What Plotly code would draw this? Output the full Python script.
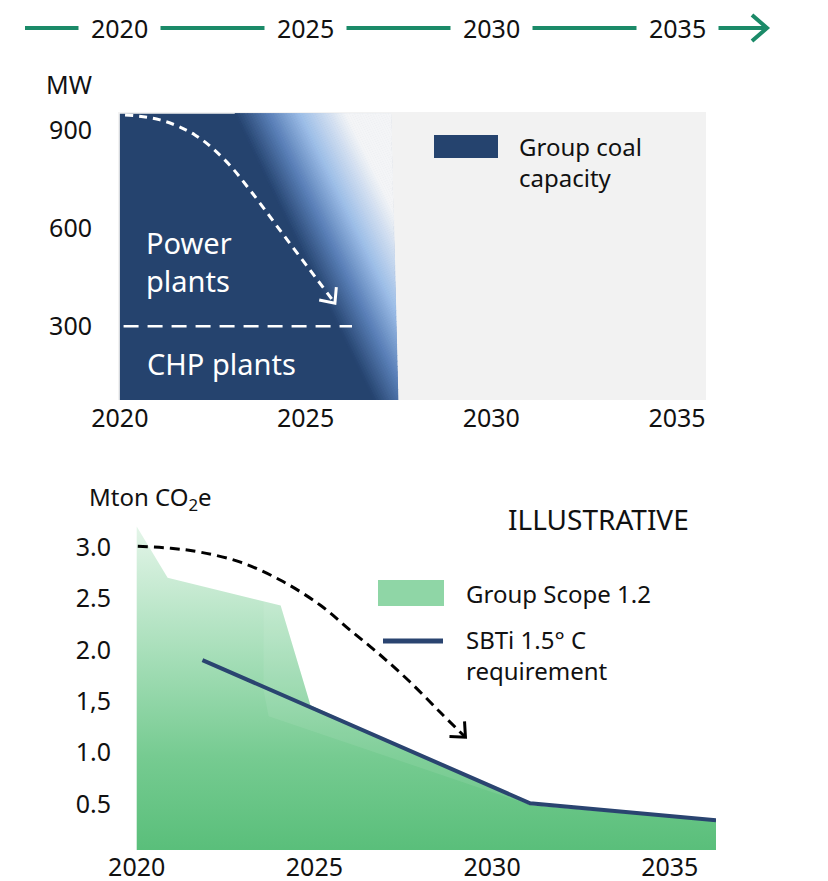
import math
import plotly.graph_objects as go

W, H = 828, 881

# ---------------- data ----------------
year_ticks = [2020, 2025, 2030, 2035]
year_labels = ["2020", "2025", "2030", "2035"]

mw_ticks = [300, 600, 900]
mw_labels = ["300", "600", "900"]

co2_ticks = [0.5, 1.0, 1.5, 2.0, 2.5, 3.0]
co2_labels = ["0.5", "1.0", "1,5", "2.0", "2.5", "3.0"]

# Group coal capacity (MW)
coal_years = [2020.0, 2020.0, 2027.3, 2027.5]
coal_mw = [0, 950, 950, 0]
chp_split_mw = 300
chp_split_years = [2020.1, 2026.25]

# illustrative phase-out arrow (top panel)
coal_arrow_years = [2020.14, 2021.08, 2022.02, 2022.83, 2023.50, 2024.31, 2025.12, 2025.79]
coal_arrow_mw = [946, 931, 885, 808, 717, 594, 472, 371]

# Group Scope 1.2 emissions (Mton CO2e)
scope_years = [2020.0, 2020.87, 2024.05, 2024.89, 2031.07, 2036.3]
scope_vals = [3.20, 2.70, 2.43, 1.46, 0.49, 0.335]
scope_strip_years = [2023.57, 2024.05, 2024.89, 2031.07, 2023.71, 2023.57]
scope_strip_vals = [2.47, 2.43, 1.46, 0.49, 1.354, 1.606]

# SBTi 1.5 C requirement
sbti_years = [2021.85, 2031.07, 2036.3]
sbti_vals = [1.90, 0.507, 0.342]

# illustrative reduction arrow (bottom panel)
co2_arrow_years = [2020.03, 2020.96, 2021.80, 2022.92, 2024.05, 2025.17, 2026.01, 2026.86, 2027.70, 2028.54, 2029.25]
co2_arrow_vals = [3.007, 2.988, 2.949, 2.852, 2.676, 2.433, 2.190, 1.947, 1.684, 1.392, 1.149]

# ---------------- styling ----------------
NAVY = "#25436e"
GREEN_LINE = "#1b8a68"
TXT = "#111111"
FONT = "Noto Sans"

TOP = dict(x0=118, x1=706, y0=112, y1=400, xr=[2019.95, 2035.78], yr=[75, 955])
BOT = dict(x0=136, x1=716, y0=500, y1=850, xr=[2019.98, 2036.3], yr=[0.0525, 3.457])


def to_px(p, x, y):
    X = p["x0"] + (x - p["xr"][0]) / (p["xr"][1] - p["xr"][0]) * (p["x1"] - p["x0"])
    Y = p["y1"] - (y - p["yr"][0]) / (p["yr"][1] - p["yr"][0]) * (p["y1"] - p["y0"])
    return X, Y


def from_px(p, X, Y):
    x = p["xr"][0] + (X - p["x0"]) / (p["x1"] - p["x0"]) * (p["xr"][1] - p["xr"][0])
    y = p["yr"][0] + (p["y1"] - Y) / (p["y1"] - p["y0"]) * (p["yr"][1] - p["yr"][0])
    return x, y


def chevron(p, xs, ys, length=16, half_angle=42):
    x1, y1 = to_px(p, xs[-2], ys[-2])
    x2, y2 = to_px(p, xs[-1], ys[-1])
    ang = math.atan2(y1 - y2, x1 - x2)
    pts = []
    for s in (1, -1):
        a = ang + s * math.radians(half_angle)
        pts.append(from_px(p, x2 + length * math.cos(a), y2 + length * math.sin(a)))
    return [pts[0][0], xs[-1], pts[1][0]], [pts[0][1], ys[-1], pts[1][1]]


def clip_poly(subject, clipper):
    area = 0
    for i in range(len(clipper)):
        a, b = clipper[i], clipper[(i + 1) % len(clipper)]
        area += a[0] * b[1] - b[0] * a[1]
    sgn = 1 if area > 0 else -1

    def inside(pt, a, b):
        return sgn * ((b[0] - a[0]) * (pt[1] - a[1]) - (b[1] - a[1]) * (pt[0] - a[0])) >= 0

    def inter(p1, p2, a, b):
        x1, y1 = p1; x2, y2 = p2; x3, y3 = a; x4, y4 = b
        den = (x1 - x2) * (y3 - y4) - (y1 - y2) * (x3 - x4)
        t = ((x1 - x3) * (y3 - y4) - (y1 - y3) * (x3 - x4)) / den
        return (x1 + t * (x2 - x1), y1 + t * (y2 - y1))

    out = subject
    for i in range(len(clipper)):
        a, b = clipper[i], clipper[(i + 1) % len(clipper)]
        inp, out = out, []
        if not inp:
            break
        s = inp[-1]
        for e in inp:
            if inside(e, a, b):
                if not inside(s, a, b):
                    out.append(inter(s, e, a, b))
                out.append(e)
            elif inside(s, a, b):
                out.append(inter(s, e, a, b))
            s = e
    return out


def hex2rgb(h):
    h = h.lstrip("#")
    return [int(h[i:i + 2], 16) for i in (0, 2, 4)]


grad_stops = [(0.0, "#25436e"), (0.9, "#5a80b8"), (1.75, "#9dbee8"), (3.0, "#f4f5f7"), (9.0, "#f4f5f7")]


def grad_color(d):
    for (d0, c0), (d1, c1) in zip(grad_stops[:-1], grad_stops[1:]):
        if d0 <= d <= d1:
            t = (d - d0) / (d1 - d0)
            a, b = hex2rgb(c0), hex2rgb(c1)
            return "rgb(%d,%d,%d)" % tuple(round(a[i] + t * (b[i] - a[i])) for i in range(3))
    return grad_stops[-1][1]


fig = go.Figure()

# ---- top panel: coal capacity ----
fig.add_trace(go.Scatter(x=coal_years, y=coal_mw, fill="toself", fillcolor=NAVY,
                         line=dict(width=0, color=NAVY), mode="lines",
                         hoverinfo="skip", showlegend=False, xaxis="x", yaxis="y"))

cap_poly = list(zip(coal_years, coal_mw))
g0, k = 2023.1, 0.004282
step = 0.07
d = 0.0
while d < 4.8:
    d2 = d + step
    quad = [(g0 + d + k * (950 + 50), -50), (g0 + d + k * (950 - 1000), 1000),
            (g0 + d2 + k * (950 - 1000), 1000), (g0 + d2 + k * (950 + 50), -50)]
    poly = clip_poly(quad, cap_poly)
    if len(poly) >= 3:
        col = grad_color(d + step / 2)
        fig.add_trace(go.Scatter(x=[q[0] for q in poly] + [poly[0][0]],
                                 y=[q[1] for q in poly] + [poly[0][1]],
                                 fill="toself", fillcolor=col, mode="lines",
                                 line=dict(width=1, color=col), hoverinfo="skip",
                                 showlegend=False, xaxis="x", yaxis="y"))
    d = d2

fig.add_trace(go.Scatter(x=chp_split_years, y=[chp_split_mw] * 2, mode="lines",
                         line=dict(color="white", width=2.5, dash="15px,9px"),
                         hoverinfo="skip", showlegend=False, xaxis="x", yaxis="y"))
fig.add_trace(go.Scatter(x=coal_arrow_years, y=coal_arrow_mw, mode="lines",
                         line=dict(color="white", width=3, dash="8px,6px", shape="spline"),
                         hoverinfo="skip", showlegend=False, xaxis="x", yaxis="y"))
cx, cy = chevron(TOP, coal_arrow_years, coal_arrow_mw)
fig.add_trace(go.Scatter(x=cx, y=cy, mode="lines", line=dict(color="white", width=3),
                         hoverinfo="skip", showlegend=False, xaxis="x", yaxis="y"))

# ---- bottom panel: emissions ----
fig.add_trace(go.Scatter(x=scope_years, y=scope_vals, fill="tozeroy", mode="lines",
                         line=dict(width=0, color="#7fcf99"),
                         fillgradient=dict(type="vertical",
                                           colorscale=[[0, "#58be79"], [0.3, "#76cb91"],
                                                       [0.62, "#a8dfba"], [1, "#e4f5e9"]]),
                         hoverinfo="skip", showlegend=False, xaxis="x2", yaxis="y2"))
fig.add_trace(go.Scatter(x=scope_strip_years, y=scope_strip_vals, fill="toself", mode="lines",
                         fillcolor="rgba(255,255,255,0.08)", line=dict(width=0),
                         hoverinfo="skip", showlegend=False, xaxis="x2", yaxis="y2"))
fig.add_trace(go.Scatter(x=sbti_years, y=sbti_vals, mode="lines",
                         line=dict(color="#2a4470", width=4),
                         hoverinfo="skip", showlegend=False, xaxis="x2", yaxis="y2"))
fig.add_trace(go.Scatter(x=co2_arrow_years, y=co2_arrow_vals, mode="lines",
                         line=dict(color="black", width=3, dash="10px,6px", shape="spline"),
                         hoverinfo="skip", showlegend=False, xaxis="x2", yaxis="y2"))
bx, by = chevron(BOT, co2_arrow_years, co2_arrow_vals)
fig.add_trace(go.Scatter(x=bx, y=by, mode="lines", line=dict(color="black", width=3),
                         hoverinfo="skip", showlegend=False, xaxis="x2", yaxis="y2"))


def dom(p):
    return [p["x0"] / W, p["x1"] / W], [1 - p["y1"] / H, 1 - p["y0"] / H]


txd, tyd = dom(TOP)
bxd, byd = dom(BOT)
tickfont = dict(family=FONT, size=25, color=TXT)

axis_common = dict(showgrid=False, zeroline=False, showline=False, ticks="",
                   fixedrange=True, automargin=False)

fig.update_layout(
    width=W, height=H, margin=dict(l=0, r=0, t=0, b=0, pad=0, autoexpand=False),
    paper_bgcolor="white", plot_bgcolor="white",
    font=dict(family=FONT, color=TXT),
    xaxis=dict(domain=txd, range=TOP["xr"], tickvals=year_ticks, ticktext=year_labels,
               tickfont=tickfont, anchor="y", ticklabelstandoff=1, **axis_common),
    yaxis=dict(domain=tyd, range=TOP["yr"], tickvals=mw_ticks, ticktext=mw_labels,
               tickfont=tickfont, anchor="x", ticklabelstandoff=25, **axis_common),
    xaxis2=dict(domain=bxd, range=BOT["xr"], tickvals=year_ticks, ticktext=year_labels,
                tickfont=tickfont, anchor="y2", ticklabelstandoff=0, **axis_common),
    yaxis2=dict(domain=byd, range=BOT["yr"], tickvals=co2_ticks, ticktext=co2_labels,
                tickfont=tickfont, anchor="x2", ticklabelstandoff=24, **axis_common),
)


def P(X, Y):
    return X / W, 1 - Y / H


shapes = []
# grey background of top panel
shapes.append(dict(type="rect", xref="x domain", yref="y domain", x0=0, x1=1, y0=0, y1=1,
                   fillcolor="#f2f2f2", line=dict(width=0), layer="below"))
# timeline
tx0, ty = P(25, 28)
tx1, _ = P(764, 28)
shapes.append(dict(type="line", xref="paper", yref="paper", x0=tx0, x1=tx1, y0=ty, y1=ty,
                   line=dict(color=GREEN_LINE, width=4)))
a1 = P(752, 15); a2 = P(767, 28); a3 = P(752, 41)
shapes.append(dict(type="path", xref="paper", yref="paper",
                   path="M %f,%f L %f,%f L %f,%f" % (a1 + a2 + a3),
                   line=dict(color=GREEN_LINE, width=4)))
# top legend swatch
l1 = P(434, 135); l2 = P(498, 158)
shapes.append(dict(type="rect", xref="paper", yref="paper", x0=l1[0], y0=l1[1], x1=l2[0], y1=l2[1],
                   fillcolor=NAVY, line=dict(width=0)))
# bottom legend swatches
g1 = P(378, 580); g2 = P(444, 606)
shapes.append(dict(type="rect", xref="paper", yref="paper", x0=g1[0], y0=g1[1], x1=g2[0], y1=g2[1],
                   fillcolor="#8fd6a6", line=dict(width=0)))
s1 = P(383, 641); s2 = P(443, 641)
shapes.append(dict(type="line", xref="paper", yref="paper", x0=s1[0], y0=s1[1], x1=s2[0], y1=s2[1],
                   line=dict(color="#2a4470", width=5)))
fig.update_layout(shapes=shapes)

ann = []


def text(X, Y, s, size=24, color=TXT, xanchor="left", **kw):
    x, y = P(X, Y)
    ann.append(dict(x=x, y=y, xref="paper", yref="paper", text=s, showarrow=False,
                    xanchor=xanchor, yanchor="middle", align="left",
                    font=dict(family=FONT, size=size, color=color), **kw))


# timeline year labels
for yv, lab in zip(year_ticks, year_labels):
    ann.append(dict(x=yv, y=1 - 28 / H, xref="x", yref="paper", text=lab, showarrow=False,
                    xanchor="center", yanchor="middle", bgcolor="white", borderpad=12,
                    font=dict(family=FONT, size=25, color=TXT)))

text(69, 84, "MW", size=25, xanchor="center")
text(517, 162, "Group coal<br>capacity")
text(144, 262, "Power<br>plants", size=29, color="white")
text(145, 363, "CHP plants", size=29, color="white")
text(87, 498, "Mton CO<sub>2</sub>e")
text(598, 519, "ILLUSTRATIVE", size=28, xanchor="center")
text(464, 593, "Group Scope 1.2")
text(464, 655, "SBTi 1.5° C<br>requirement")
fig.update_layout(annotations=ann)

fig.write_html("out.html", config={"displayModeBar": False},
               post_script="document.body.style.margin='0px';")
